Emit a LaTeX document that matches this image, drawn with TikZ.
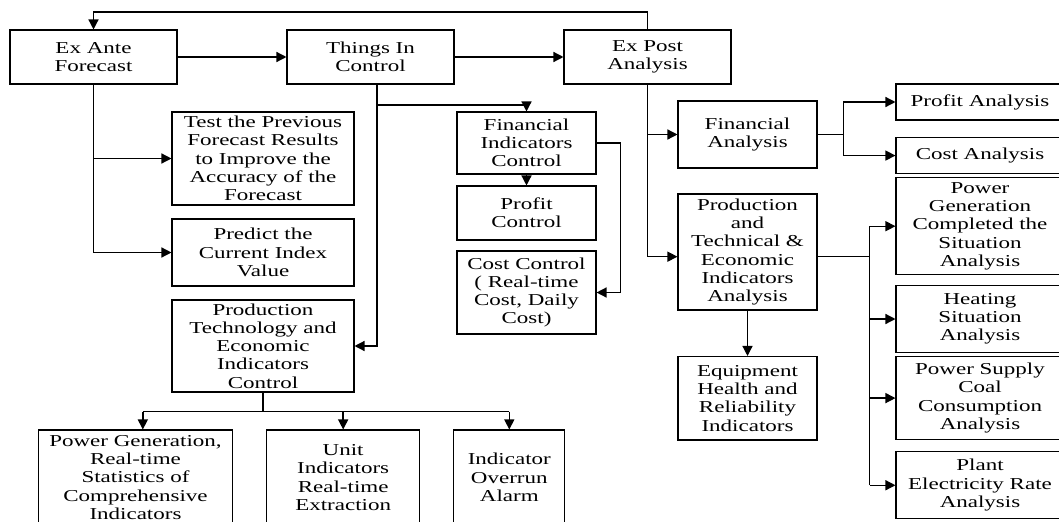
\documentclass[tikz,border=0pt]{standalone}
\usepackage{fontspec}
\setmainfont[FakeStretch=1.38]{Liberation Serif}
\usetikzlibrary{arrows.meta,calc}
\tikzset{
  box/.style={draw, line width=0.8pt, align=center, inner sep=0pt, font=\fontsize{12.5}{13.7}\selectfont},
  conn/.style={line width=1pt},
  arr/.style={line width=1pt, -{Triangle[length=7.5pt,width=7.5pt]}}
}
\newcommand\mybox[6]{\node[box, minimum width={(#4-#2)*0.75pt}, minimum height={(#5-#3)*0.75pt}] (#1) at ({(#2+#4)/2},{(#3+#5)/2}) {#6};}
\begin{document}
\begin{tikzpicture}[x=0.75pt,y=-0.75pt]
\fill[white] (0,0) rectangle (1059,521);
\useasboundingbox (0,0) rectangle (1059,521);
\clip (0,0) rectangle (1059,521);
% top row
\mybox{ante}{10}{30}{177}{84}{Ex Ante\\Forecast}
\mybox{things}{287}{30}{454}{84}{Things In\\Control}
\mybox{post}{564}{30}{731}{84}{Ex Post\\Analysis}
% left column
\mybox{test}{172}{112}{354}{205}{Test the Previous\\Forecast Results\\to Improve the\\Accuracy of the\\Forecast}
\mybox{predict}{172}{219}{354}{286}{Predict the\\Current Index\\Value}
\mybox{ptc}{172}{300}{354}{392}{Production\\Technology and\\Economic\\Indicators\\Control}
% financial control column
\mybox{fic}{457}{112}{596}{174}{Financial\\Indicators\\Control}
\mybox{profc}{457}{186}{596}{240}{Profit\\Control}
\mybox{costc}{457}{251}{596}{334}{Cost Control\\( Real-time\\Cost, Daily\\Cost)}
% analysis column
\mybox{fa}{678}{101}{817}{168}{Financial\\Analysis}
\mybox{pta}{678}{194}{817}{310}{Production\\and\\Technical \&\\Economic\\Indicators\\Analysis}
\mybox{equip}{678}{356.5}{817}{440}{Equipment\\Health and\\Reliability\\Indicators}
% right column
\mybox{profa}{896}{84}{1064}{120}{Profit Analysis}
\mybox{costa}{896}{137.5}{1064}{173.6}{Cost Analysis}
\mybox{pgca}{896}{177.6}{1064}{274.8}{Power\\Generation\\Completed the\\Situation\\Analysis}
\mybox{heat}{896}{285.8}{1064}{352.2}{Heating\\Situation\\Analysis}
\mybox{coal}{896}{356.5}{1064}{439.7}{Power Supply\\Coal\\Consumption\\Analysis}
\mybox{plant}{896}{451.7}{1064}{518.8}{Plant\\Electricity Rate\\Analysis}
% bottom row
\mybox{pgrt}{38.6}{430}{232.4}{525}{Power Generation,\\Real-time\\Statistics of\\Comprehensive\\Indicators}
\mybox{unit}{266.9}{430}{419.4}{525}{Unit\\Indicators\\Real-time\\Extraction}
\mybox{alarm}{453.9}{430}{564.7}{525}{Indicator\\Overrun\\Alarm}
% helper coordinates
\coordinate (fbtop) at (0,12);
\coordinate (br1) at (0,105);
\coordinate (fx) at (620.4,0);
\coordinate (fb2) at (843.8,0);
\coordinate (sp) at (869.6,0);
\coordinate (hb) at (0,411.6);
\coordinate (ts) at ([xshift=4.9pt]things.south);
\coordinate (ptaw) at ([yshift=-3.5pt]pta.west);
\coordinate (ptae) at ([yshift=-3.5pt]pta.east);
\coordinate (pgrtn) at ([xshift=5.5pt]pgrt.north);
% feedback
\draw[arr] (post.north) -- (post.north |- fbtop) -| (ante.north);
% top row arrows
\draw[arr] (ante.east) -- (things.west);
\draw[arr] (things.east) -- (post.west);
% ex ante branches
\draw[arr] (ante.south) |- (predict.west);
\draw[arr] (ante.south |- test.west) -- (test.west);
% things in control branches
\draw[arr] (ts) |- (ptc.east);
\draw[arr] (ts |- br1) -| (fic.north);
\draw[arr] (fic.south) -- (profc.north);
\draw[arr] (fic.east) -- (fic.east -| fx) |- (costc.east);
% ex post branches
\draw[arr] (post.south) |- (ptaw);
\draw[arr] (post.south |- fa.west) -- (fa.west);
% financial analysis
\draw[conn] (fa.east) -- (fa.east -| fb2);
\draw[arr] (fa.east -| fb2) |- (profa.west);
\draw[arr] (fa.east -| fb2) |- (costa.west);
% production & technical analysis
\draw[conn] (ptae) -- (ptae -| sp);
\draw[conn] (sp |- pgca.west) -- (sp |- plant.west);
\draw[arr] (sp |- pgca.west) -- (pgca.west);
\draw[arr] (sp |- heat.west) -- (heat.west);
\draw[arr] (sp |- coal.west) -- (coal.west);
\draw[arr] (sp |- plant.west) -- (plant.west);
\draw[arr] (pta.south) -- (equip.north);
% production technology control
\draw[conn] (ptc.south) -- (ptc.south |- hb);
\draw[conn] (pgrtn |- hb) -- (alarm.north |- hb);
\draw[arr] (pgrtn |- hb) -- (pgrtn);
\draw[arr] (unit.north |- hb) -- (unit.north);
\draw[arr] (alarm.north |- hb) -- (alarm.north);
\end{tikzpicture}
\end{document}
